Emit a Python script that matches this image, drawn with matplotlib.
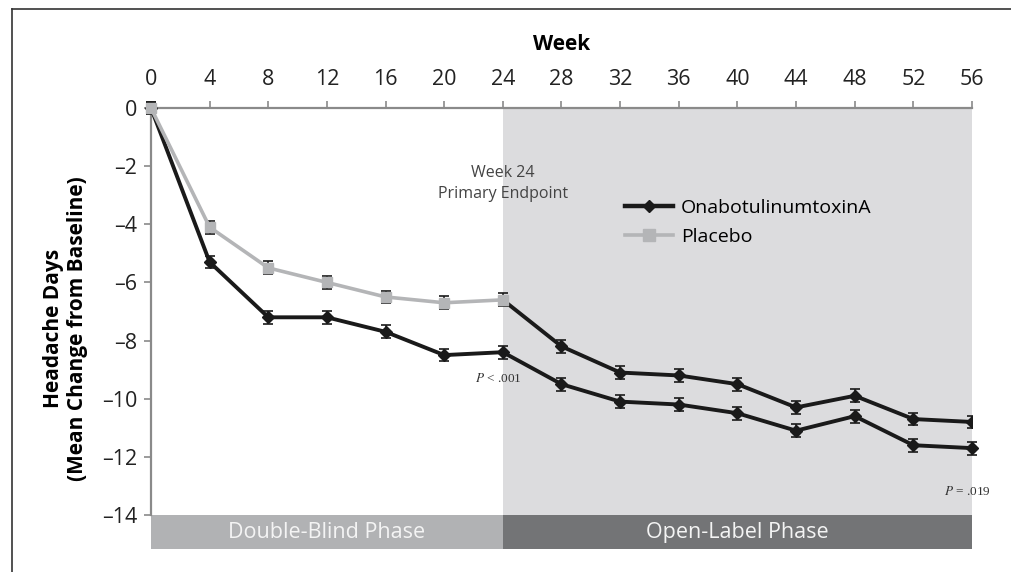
import matplotlib
matplotlib.use("Agg")
import matplotlib.pyplot as plt
from matplotlib.lines import Line2D
from matplotlib.patches import Rectangle

plt.rcParams["font.family"] = ["Open Sans", "DejaVu Sans"]
plt.rcParams["mathtext.fontset"] = "stix"

# data
weeks_db = [0, 4, 8, 12, 16, 20, 24]
weeks_ol = [24, 28, 32, 36, 40, 44, 48, 52, 56]
onabot_db = [0, -5.3, -7.2, -7.2, -7.7, -8.5, -8.4]
onabot_ol = [-8.4, -9.5, -10.1, -10.2, -10.5, -11.1, -10.6, -11.6, -11.7]
placebo_db = [0, -4.1, -5.5, -6.0, -6.5, -6.7, -6.6]
placebo_ol = [-6.6, -8.2, -9.1, -9.2, -9.5, -10.3, -9.9, -10.7, -10.8]
err = 0.22
xticks = list(range(0, 57, 4))
yticks = list(range(-14, 1, 2))
phases = [("Double-Blind Phase", 0, 24), ("Open-Label Phase", 24, 56)]

DARK = "#1a1a1a"
LIGHT = "#b4b5b7"
AXIS = "#8a8a8a"

fig = plt.figure(figsize=(10.12, 5.72), dpi=100)
ax = fig.add_axes([151 / 1012, 1 - 549 / 572, 821 / 1012, 441 / 572])
ax.set_xlim(0, 56)
ax.set_ylim(-15.17, 0)

# shaded open-label area
ax.add_patch(Rectangle((24, -14), 32, 14, color="#dcdcde", zorder=0, lw=0))

# phase bars under the plot
bar_cols = ["#b1b2b4", "#737476"]
for (name, x0, x1), col in zip(phases, bar_cols):
    ax.add_patch(Rectangle((x0, -15.17), x1 - x0, 1.17, color=col, lw=0, zorder=1))
    ax.text((x0 + x1) / 2, -14.6, name, ha="center", va="center",
            color="#f4f4f4", fontsize=15.5)

# onabotulinumtoxinA group
ax.errorbar(weeks_db + weeks_ol[1:], onabot_db + onabot_ol[1:], yerr=err,
            color=DARK, lw=2.8, marker="D", ms=6, ecolor=DARK, elinewidth=1.2,
            capsize=3.5, capthick=1.2, zorder=4, clip_on=False)

# placebo group, switched to active treatment after week 24
ax.plot(weeks_ol, placebo_ol, color=DARK, lw=2.8, zorder=3)
ax.errorbar(weeks_ol[1:], placebo_ol[1:], yerr=err, fmt="D", color=DARK,
            ms=6, elinewidth=1.2, capsize=3.5, capthick=1.2, zorder=4)
ax.errorbar(weeks_db, placebo_db, yerr=err, color=LIGHT, lw=2.6, marker="s",
            ms=7, ecolor=DARK, elinewidth=1.2, capsize=3.5, capthick=1.2,
            zorder=5, clip_on=False)

# axes styling
for side in ["bottom", "right"]:
    ax.spines[side].set_visible(False)
for side in ["top", "left"]:
    ax.spines[side].set_color(AXIS)
    ax.spines[side].set_linewidth(1.6)
ax.spines["left"].set_bounds(-14, 0)
ax.xaxis.tick_top()
ax.xaxis.set_label_position("top")
ax.set_xticks(xticks)
ax.set_yticks(yticks)
ax.set_yticklabels([str(v).replace("-", "\u2013") for v in yticks])
ax.tick_params(axis="both", colors=AXIS, labelcolor="#222222", labelsize=15.5,
               length=5, width=1.2, direction="out")
ax.tick_params(axis="x", pad=8)
ax.tick_params(axis="y", pad=5)
ax.set_xlabel("Week", fontsize=15, fontweight="bold", labelpad=14)
ax.set_ylabel("Headache Days\n(Mean Change from Baseline)", fontsize=15,
              fontweight="bold", labelpad=10, linespacing=1.15)

# annotations
ax.text(24, -2.6, "Week 24\nPrimary Endpoint", ha="center", va="center",
        fontsize=11.5, color="#444444", linespacing=1.45)
ax.text(23.7, -9.3, r"$\it{P}$ < .001", ha="center", va="center",
        fontsize=9.5, color="#333333", family="Liberation Serif")
ax.text(55.7, -13.2, r"$\it{P}$ = .019", ha="center", va="center",
        fontsize=9.5, color="#333333", family="Liberation Serif")

handles = [
    Line2D([], [], color=DARK, lw=3.2, marker="D", ms=6),
    Line2D([], [], color=LIGHT, lw=2.6, marker="s", ms=8),
]
ax.legend(handles, ["OnabotulinumtoxinA", "Placebo"], loc="center left",
          bbox_to_anchor=(32.3, -3.93), bbox_transform=ax.transData,
          frameon=False, fontsize=14, handlelength=2.5, handletextpad=0.4,
          labelspacing=0.55, borderpad=0, borderaxespad=0)

# outer frame (top and left edges)
fig.add_artist(Line2D([12 / 1012, 12 / 1012], [0, 1 - 9 / 572],
                      transform=fig.transFigure, color="#333333", lw=1.2))
fig.add_artist(Line2D([12 / 1012, 1], [1 - 9 / 572, 1 - 9 / 572],
                      transform=fig.transFigure, color="#333333", lw=1.2))

fig.savefig("out.png", dpi=100)
